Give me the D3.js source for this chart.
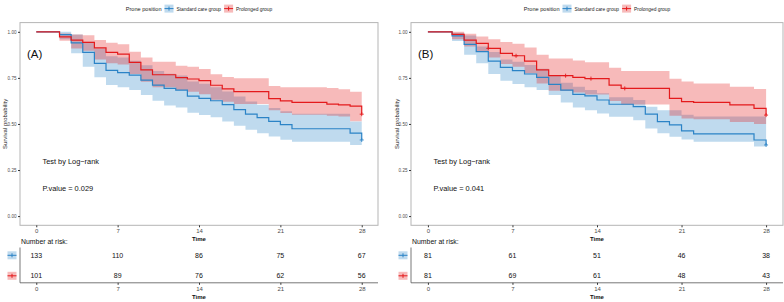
<!DOCTYPE html>
<html><head><meta charset="utf-8">
<script src="https://cdn.jsdelivr.net/npm/d3@7"></script>
<style>
body{margin:0;background:#fff}
svg{display:block;font-family:"Liberation Sans",Arial,sans-serif}
</style>
</head><body>
<svg id="chart" width="784" height="302"></svg>
<script>
// --- data ---
const groups = ["Standard care group", "Prolonged group"];
const ticksX = [0, 7, 14, 21, 28];
const ticksY = [0, 0.25, 0.5, 0.75, 1];

// panel A - standard care
const stdA_time = [0,2,3,4,5,6,7,8,9,10,11,12,13,14,15,16,17,18,19,20,21,22,27,28];
const stdA_surv = [1,.985,.94,.888,.829,.791,.778,.765,.738,.711,.693,.684,.651,.639,.626,.605,.578,.553,.534,.514,.496,.474,.450,.413];
const stdA_up   = [1,1,.985,.946,.91,.868,.86,.843,.818,.788,.772,.763,.73,.718,.699,.676,.649,.622,.604,.586,.569,.555,.513,.47];
const stdA_lo   = [1,.959,.883,.81,.753,.711,.699,.684,.657,.626,.6,.589,.561,.549,.536,.513,.49,.468,.45,.432,.414,.404,.386,.35];
// panel A - prolonged
const proA_time = [0,2,3,4,5,6,7,8,9,10,12,13,14,15,16,17,20,21,22,25,26,27,28];
const proA_surv = [1,.973,.955,.943,.913,.888,.879,.834,.793,.767,.751,.744,.735,.71,.69,.675,.637,.625,.617,.608,.603,.597,.553];
const proA_up   = [1,.991,.986,.982,.955,.94,.932,.892,.861,.837,.816,.81,.798,.77,.755,.748,.706,.699,.699,.695,.688,.675,.64];
const proA_lo   = [1,.951,.91,.897,.85,.829,.823,.771,.729,.699,.684,.675,.661,.632,.62,.608,.575,.56,.55,.545,.54,.515,.5];

// panel B - standard care
const stdB_time = [0,2,3,4,5,6,7,8,9,10,11,12,13,14,15,17,18,19,20,21,22,27,28];
const stdB_surv = [1,.978,.932,.892,.841,.807,.789,.771,.753,.715,.684,.661,.652,.63,.607,.594,.553,.513,.495,.462,.446,.413,.386];
const stdB_up   = [1,.995,.98,.92,.89,.85,.837,.82,.8,.76,.724,.702,.684,.666,.645,.63,.594,.575,.575,.55,.54,.54,.5];
const stdB_lo   = [1,.95,.875,.829,.771,.735,.717,.699,.684,.657,.616,.589,.575,.557,.539,.52,.475,.45,.43,.415,.404,.377,.34];
// panel B - prolonged
const proB_time = [0,2,3,4,5,6,7,8,9,10,12,13,15,16,20,21,22,25,27,28];
const proB_surv = [1,.986,.955,.937,.91,.883,.87,.841,.793,.762,.753,.746,.711,.693,.639,.621,.617,.603,.585,.548];
const proB_up   = [1,1,.99,.975,.96,.945,.935,.915,.875,.855,.845,.835,.805,.787,.745,.73,.72,.702,.69,.65];
const proB_lo   = [1,.96,.92,.89,.86,.825,.81,.775,.72,.68,.67,.66,.625,.605,.545,.53,.525,.51,.5,.46];
const proB_cens = [5, 7.3, 11.4, 13.5, 16.3];

// number at risk
const riskA_std = [133, 110, 86, 75, 67];
const riskA_pro = [101, 89, 76, 62, 56];
const riskB_std = [81, 61, 51, 46, 38];
const riskB_pro = [81, 69, 61, 48, 43];

const colors = ["#2B83C6", "#E41A1C"];

const panels = [
  {label: "(A)", pval: "P.value = 0.029", left: 20, right: 378, yLab: 5,
   curves: [[stdA_time, stdA_surv, stdA_up, stdA_lo, []], [proA_time, proA_surv, proA_up, proA_lo, []]],
   risk: [riskA_std, riskA_pro]},
  {label: "(B)", pval: "P.value = 0.041", left: 411, right: 783, yLab: 397,
   curves: [[stdB_time, stdB_surv, stdB_up, stdB_lo, []], [proB_time, proB_surv, proB_up, proB_lo, proB_cens]],
   risk: [riskB_std, riskB_pro]}
];

const svg = d3.select("#chart");
const plotTop = 22.6, plotBottom = 225.3;

function stepAt(time, surv, t) {
  let v = surv[0];
  time.forEach((tt, i) => { if (tt <= t) v = surv[i]; });
  return v;
}

function keyBox(g, cx, cy, col) {
  g.append("rect").attr("x", cx - 4.5).attr("y", cy - 4).attr("width", 9).attr("height", 8)
    .attr("fill", col).attr("fill-opacity", 0.3);
  g.append("line").attr("x1", cx - 4.5).attr("x2", cx + 4.5).attr("y1", cy).attr("y2", cy)
    .attr("stroke", col).attr("stroke-width", 1);
  g.append("line").attr("x1", cx).attr("x2", cx).attr("y1", cy - 2).attr("y2", cy + 2)
    .attr("stroke", col).attr("stroke-width", 1);
}

panels.forEach(p => {
  const x = d3.scaleLinear().domain([-1.4, 29.4]).range([p.left, p.right]);
  const y = d3.scaleLinear().domain([-0.05, 1.05]).range([plotBottom, plotTop]);
  const g = svg.append("g");

  // box
  g.append("rect").attr("x", p.left).attr("y", plotTop)
    .attr("width", p.right - p.left).attr("height", plotBottom - plotTop)
    .attr("fill", "#fff").attr("stroke", "#b5b5b5").attr("stroke-width", 1);

  // y axis
  const ya = g.append("g").attr("transform", `translate(${p.left},0)`)
    .call(d3.axisLeft(y).tickValues(ticksY).tickFormat(d3.format(".2f")).tickSize(2).tickPadding(1.5));
  ya.select(".domain").remove();
  ya.selectAll("text").style("font-size", "4.6px").attr("fill", "#4d4d4d");
  ya.selectAll("line").attr("stroke", "#333");

  // x axis
  const xa = g.append("g").attr("transform", `translate(0,${plotBottom})`)
    .call(d3.axisBottom(x).tickValues(ticksX).tickSize(2).tickPadding(1.5));
  xa.select(".domain").remove();
  xa.selectAll("text").style("font-size", "6px").attr("fill", "#4d4d4d");
  xa.selectAll("line").attr("stroke", "#333");

  g.append("text").attr("x", x(14)).attr("y", 241.3).attr("text-anchor", "middle")
    .style("font-size", "6px").style("font-weight", "bold").attr("fill", "#111").text("Time");

  g.append("text").attr("transform", `translate(${p.yLab + 2},${(plotTop + plotBottom) / 2}) rotate(-90)`)
    .attr("text-anchor", "middle").style("font-size", "6px").attr("fill", "#222")
    .text("Survival probability");

  // bands then lines
  const rows = p.curves.map(c => c[0].map((t, i) => ({t: t, s: c[1][i], up: c[2][i], lo: c[3][i]})));
  const area = d3.area().curve(d3.curveStepAfter)
    .x(d => x(d.t)).y0(d => y(d.lo)).y1(d => y(d.up));
  const line = d3.line().curve(d3.curveStepAfter).x(d => x(d.t)).y(d => y(d.s));

  rows.forEach((r, k) => {
    g.append("path").datum(r).attr("d", area)
      .attr("fill", colors[k]).attr("fill-opacity", 0.3).attr("stroke", "none");
  });
  rows.forEach((r, k) => {
    g.append("path").datum(r).attr("d", line)
      .attr("fill", "none").attr("stroke", colors[k]).attr("stroke-width", 1.2);
    const c = p.curves[k];
    const cens = c[4].concat([28]);
    cens.forEach(t => {
      const cx = x(t), cy = y(stepAt(c[0], c[1], t));
      g.append("line").attr("x1", cx - 2).attr("x2", cx + 2).attr("y1", cy).attr("y2", cy)
        .attr("stroke", colors[k]).attr("stroke-width", 0.9);
      g.append("line").attr("x1", cx).attr("x2", cx).attr("y1", cy - 2).attr("y2", cy + 2)
        .attr("stroke", colors[k]).attr("stroke-width", 0.9);
    });
  });

  // annotations
  g.append("text").attr("x", p.left + 7).attr("y", 58).style("font-size", "11.5px")
    .attr("fill", "#111").text(p.label);
  g.append("text").attr("x", p.left + 22.5).attr("y", 163.7).style("font-size", "7.4px")
    .attr("fill", "#111").text("Test by Log\u2212rank");
  g.append("text").attr("x", p.left + 22.5).attr("y", 191).style("font-size", "7.4px")
    .attr("fill", "#111").text(p.pval);

  // legend on top, centred over the box
  const lg = g.append("g");
  const t0 = lg.append("text").attr("y", 10.5).style("font-size", "5.6px").attr("fill", "#222").text("Prone position");
  const parts = [];
  parts.push({node: t0, w: t0.node().getComputedTextLength()});
  groups.forEach((name, k) => {
    const tx = lg.append("text").attr("y", 10.5).style("font-size", "4.9px").attr("fill", "#222").text(name);
    parts.push({key: k, w: 9});
    parts.push({node: tx, w: tx.node().getComputedTextLength()});
  });
  const gap = 3;
  const total = d3.sum(parts, d => d.w) + gap * (parts.length - 1);
  let cur = (p.left + p.right) / 2 - total / 2;
  parts.forEach(d => {
    if (d.node) d.node.attr("x", cur);
    else keyBox(lg, cur + 4.5, 8.6, colors[d.key]);
    cur += d.w + gap;
  });

  // risk table
  const rt = g.append("g");
  rt.append("text").attr("x", p.left + 1).attr("y", 243.7).style("font-size", "6.9px")
    .attr("fill", "#111").text("Number at risk:");
  rt.append("line").attr("x1", p.left).attr("x2", p.left).attr("y1", 247.5).attr("y2", 282.8)
    .attr("stroke", "#555").attr("stroke-width", 0.8);
  rt.append("line").attr("x1", p.left).attr("x2", p.right).attr("y1", 282.8).attr("y2", 282.8)
    .attr("stroke", "#555").attr("stroke-width", 0.8);
  const rowY = [257.8, 278.3];
  p.risk.forEach((vals, k) => {
    rt.selectAll(null).data(vals).enter().append("text")
      .attr("x", (d, i) => x(ticksX[i])).attr("y", rowY[k])
      .attr("text-anchor", "middle").style("font-size", "7px").attr("fill", "#111")
      .text(d => d);
    keyBox(rt, p.left - 8, rowY[k] - 2.5, colors[k]);
  });
  const xb = rt.append("g").attr("transform", `translate(0,282.8)`)
    .call(d3.axisBottom(x).tickValues(ticksX).tickSize(2).tickPadding(1.5));
  xb.select(".domain").remove();
  xb.selectAll("text").style("font-size", "6px").attr("fill", "#4d4d4d");
  xb.selectAll("line").attr("stroke", "#333");
  rt.append("text").attr("x", x(14)).attr("y", 298.5).attr("text-anchor", "middle")
    .style("font-size", "6px").style("font-weight", "bold").attr("fill", "#111").text("Time");
});
</script>
</body></html>
